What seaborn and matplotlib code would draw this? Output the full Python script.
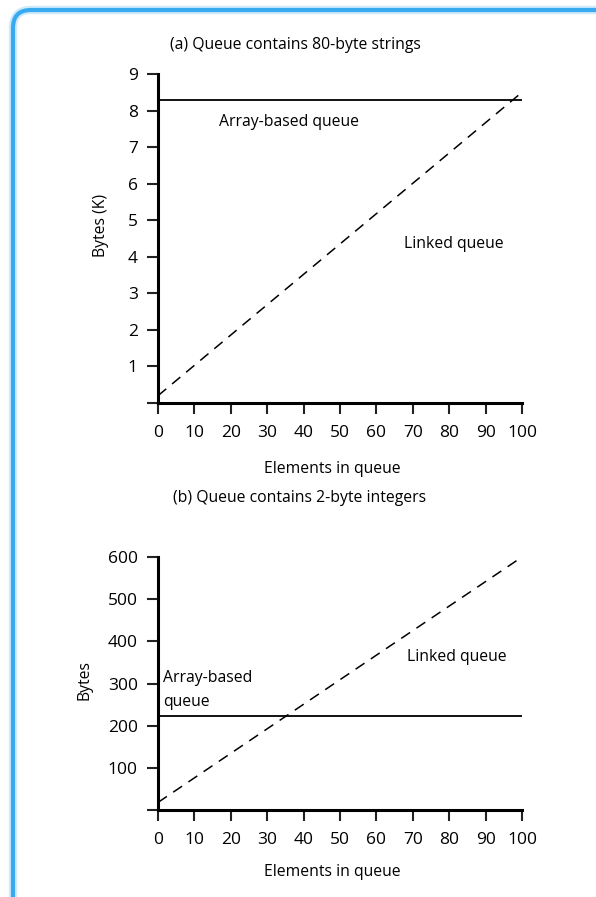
import matplotlib
matplotlib.use("Agg")
import matplotlib.pyplot as plt
import seaborn as sns
import pandas as pd
from matplotlib.patches import FancyBboxPatch

sns.set_style("ticks")
plt.rcParams['font.family'] = ['Open Sans', 'DejaVu Sans']
plt.rcParams['text.color'] = 'black'
plt.rcParams['xtick.color'] = 'black'
plt.rcParams['ytick.color'] = 'black'

elements = [0, 100]
array_a = [8.3, 8.3]
linked_a = [0.2, 8.5]
array_b = [223, 223]
linked_b = [18, 600]
xticks = list(range(0, 101, 10))
yticks_a = list(range(0, 10))
yticks_b = list(range(0, 601, 100))

W, H = 596, 897
FS = 11.3
TFS = 12.5
fig = plt.figure(figsize=(W / 100, H / 100), dpi=100)

def px(x, y):
    return x / W, 1 - y / H

# blue frame (left and top edges, rounded corner)
for lw, col in [(6, '#cfeafb'), (3, '#3aaaf0')]:
    fig.patches.append(FancyBboxPatch((13/W, -0.1), 1.2, 1 - 10/H + 0.1,
                                      boxstyle="round,pad=0,rounding_size=0.03",
                                      transform=fig.transFigure, fill=False,
                                      edgecolor=col, linewidth=lw,
                                      mutation_aspect=W/H, zorder=0))

def style(ax, yticks, ylim):
    ax.set_xlim(0, 100)
    ax.set_ylim(*ylim)
    ax.set_xticks(xticks)
    ax.set_xticklabels([str(t) for t in xticks])
    ax.set_yticks(yticks)
    ax.set_yticklabels([''] + [str(t) for t in yticks[1:]])
    for s in ['top', 'right']:
        ax.spines[s].set_visible(False)
    for s in ['left', 'bottom']:
        ax.spines[s].set_linewidth(2.2)
        ax.spines[s].set_color('black')
        ax.spines[s].set_zorder(5)
    ax.tick_params(direction='out', length=8, width=1.5, labelsize=TFS,
                   color='#222222', labelcolor='black')
    ax.tick_params(axis='x', pad=8)
    ax.tick_params(axis='y', pad=6.5)
    ax.set_facecolor('none')
    ax.set_xlabel('')
    ax.set_ylabel('')

# top chart
ax1 = fig.add_axes([158/W, 1 - 403/H, 364/W, 329/H])
da = pd.DataFrame({'x': elements, 'array': array_a, 'linked': linked_a})
sns.lineplot(data=da, x='x', y='array', ax=ax1, color='black', linewidth=1.3)
sns.lineplot(data=da, x='x', y='linked', ax=ax1, color='black', linewidth=1.1, linestyle=(0, (7, 5)))
style(ax1, yticks_a, (0, 9))
ax1.text(16.8, 7.7, 'Array-based queue', fontsize=FS, va='center', ha='left')
ax1.text(67.5, 4.35, 'Linked queue', fontsize=FS, va='center', ha='left')
fig.text(*px(295, 45), '(a) Queue contains 80-byte strings', fontsize=FS, ha='center', va='center')
fig.text(*px(332, 469), 'Elements in queue', fontsize=FS, ha='center', va='center')
fig.text(*px(101, 225), 'Bytes (K)', fontsize=FS, ha='center', va='center', rotation=90)

# bottom chart
ax2 = fig.add_axes([158/W, 1 - 810/H, 364/W, 253/H])
db = pd.DataFrame({'x': elements, 'array': array_b, 'linked': linked_b})
sns.lineplot(data=db, x='x', y='array', ax=ax2, color='black', linewidth=1.3)
sns.lineplot(data=db, x='x', y='linked', ax=ax2, color='black', linewidth=1.1, linestyle=(0, (7, 5)))
style(ax2, yticks_b, (0, 600))
ax2.text(1.5, 314, 'Array-based', fontsize=FS, va='center', ha='left')
ax2.text(1.5, 255, 'queue', fontsize=FS, va='center', ha='left')
ax2.text(68.5, 362, 'Linked queue', fontsize=FS, va='center', ha='left')
fig.text(*px(300, 498), '(b) Queue contains 2-byte integers', fontsize=FS, ha='center', va='center')
fig.text(*px(332, 872), 'Elements in queue', fontsize=FS, ha='center', va='center')
fig.text(*px(85, 680), 'Bytes', fontsize=FS, ha='center', va='center', rotation=90)

fig.savefig('out.png', dpi=100)
